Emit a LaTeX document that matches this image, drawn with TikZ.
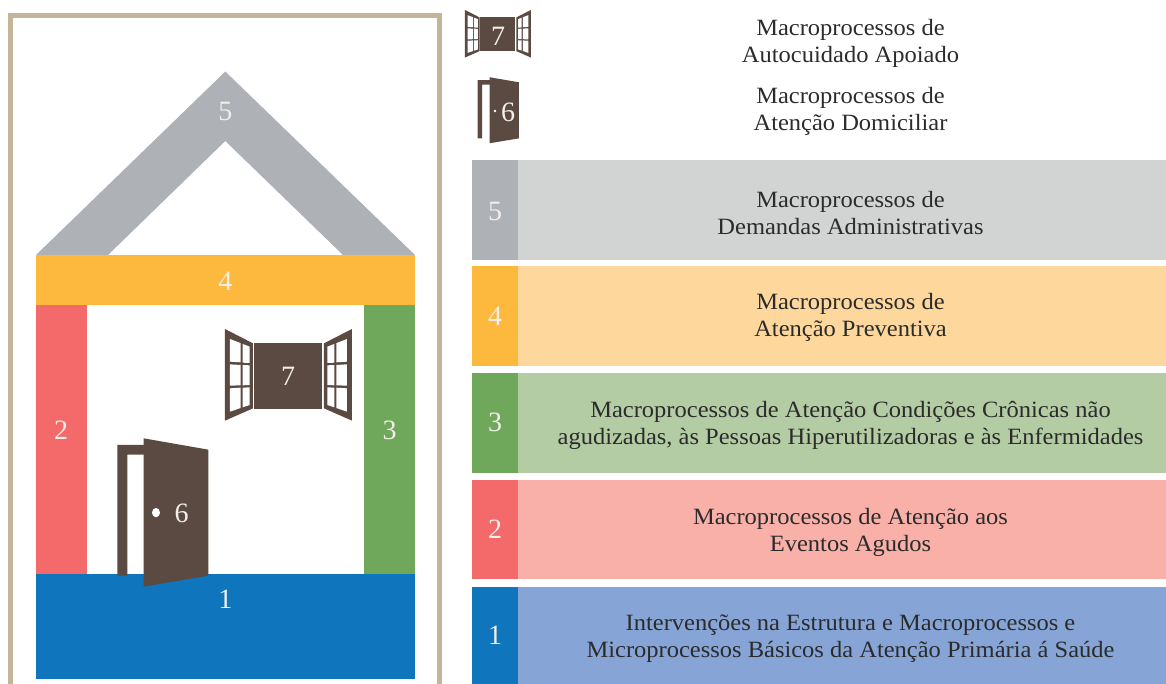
\documentclass[tikz,border=0pt]{standalone}
\usepackage{fontspec}
\setmainfont{Liberation Serif}
\newfontfamily\capfont[FakeStretch=1.05]{Liberation Serif}
\definecolor{framec}{HTML}{C4B599}
\definecolor{brownc}{HTML}{5B4A41}
\definecolor{digitc}{HTML}{F2EEEA}
\definecolor{txtc}{HTML}{2B2B2B}
\definecolor{greyD}{HTML}{AEB1B5}\definecolor{greyL}{HTML}{D2D3D3}
\definecolor{yelD}{HTML}{FDB93D}\definecolor{yelL}{HTML}{FDD79C}
\definecolor{grnD}{HTML}{70A85B}\definecolor{grnL}{HTML}{B3CCA4}
\definecolor{redD}{HTML}{F46A6B}\definecolor{redL}{HTML}{F8B0A9}
\definecolor{bluD}{HTML}{0F75BC}\definecolor{bluL}{HTML}{86A5D6}
\tikzset{
  digit/.style={text=digitc,font=\fontsize{21pt}{21pt}\selectfont,inner sep=0pt},
  caption/.style={text=txtc,align=center,inner sep=0pt,font=\capfont\fontsize{17.5pt}{20.25pt}\selectfont}
}
\newcommand{\windowicon}{%
  \fill[brownc] (463,68) rectangle (666,266);
  \foreach \a/\s in {0/1,1131/-1}{
    \fill[brownc] ({\a+\s*375},27) -- ({\a+\s*459},70) -- ({\a+\s*459},265) -- ({\a+\s*375},302) -- cycle;
    \foreach \p/\q/\ya/\yb/\yc/\yd in {
      390/422/57/69.5/127/125, 428/449/71.8/80/129/128,
      390/422/133/135/196/197, 428/449/135/136/195/196,
      390/422/205/203/264/275, 428/449/203/202/255/262}{
      \fill[white] ({\a+\s*\p},\ya) -- ({\a+\s*\q},\yb) -- ({\a+\s*\q},\yc) -- ({\a+\s*\p},\yd) -- cycle;
    }
  }
}
\newcommand{\dooricon}{%
  \fill[brownc] (52,767) -- (52,375) -- (140,375) -- (140,404) -- (82,404) -- (82,767) -- cycle;
  \fill[brownc] (131,355) -- (325,389) -- (325,767) -- (131,800) -- cycle;
}
\begin{document}
\begin{tikzpicture}[x=0.75pt,y=-0.75pt]
\useasboundingbox (0,0) rectangle (1166,684);
% frame
\draw[framec,line width=3.6pt] (10.6,684) -- (10.6,15.5) -- (439.4,15.5) -- (439.4,684);
% house
\fill[greyD] (36,255) -- (225.3,71.5) -- (415,255) -- (343,255) -- (225.3,141) -- (108,255) -- cycle;
\fill[yelD] (36,255) rectangle (415,304.5);
\fill[redD] (36,304.5) rectangle (87,574);
\fill[grnD] (364,304.5) rectangle (415,574);
\fill[bluD] (36,574) rectangle (415,679);
\node[digit] (h5) at (225.3,111) {5};
\node[digit] (h4) at (225.3,281) {4};
\node[digit] (h2) at (61,430) {2};
\node[digit] (h3) at (389.5,430) {3};
\node[digit] (h1) at (225.3,599) {1};
% large window and door
\begin{scope}[shift={(100,320)},scale=0.3333]
  \windowicon
  \dooricon
  \fill[white] (168,578) ellipse (12 and 14);
\end{scope}
\node[digit] (h7) at (288,376) {7};
\node[digit] (h6) at (181.5,513) {6};
% legend icons
\begin{scope}[shift={(400.1,5.3)},scale=0.173]
  \windowicon
\end{scope}
\node[digit] (l7) at (498,36) {7};
\begin{scope}[shift={(469.8,24.6)},xscale=0.1513,yscale=0.1483]
  \dooricon
\end{scope}
\fill[white] (495,111) circle (1.4);
\node[digit] (l6) at (508,112) {6};
\node[caption] (c7) at (850.5,43) {Macroprocessos de\\Autocuidado Apoiado};
\node[caption] (c6) at (850.5,111.5) {Macroprocessos de\\Atenção Domiciliar};
% legend bars
\fill[greyD] (472,160) rectangle (518,260);
\fill[greyL] (518,160) rectangle (1166,260);
\fill[yelD] (472,266) rectangle (518,366);
\fill[yelL] (518,266) rectangle (1166,366);
\fill[grnD] (472,373) rectangle (518,472.5);
\fill[grnL] (518,373) rectangle (1166,472.5);
\fill[redD] (472,479.5) rectangle (518,579);
\fill[redL] (518,479.5) rectangle (1166,579);
\fill[bluD] (472,586.5) rectangle (518,684);
\fill[bluL] (518,586.5) rectangle (1166,684);
\node[digit] (l5) at (495,211) {5};
\node[digit] (l4) at (495,316) {4};
\node[digit] (l3) at (495,422) {3};
\node[digit] (l2) at (495,529) {2};
\node[digit] (l1) at (495,635) {1};
\node[caption] (c5) at (850.5,213.5) {Macroprocessos de\\Demandas Administrativas};
\node[caption] (c4) at (850.5,317.5) {Macroprocessos de\\Atenção Preventiva};
\node[caption] (c3) at (850.5,425.5) {Macroprocessos de Atenção Condições Crônicas não\\agudizadas, às Pessoas Hiperutilizadoras e às Enfermidades};
\node[caption] (c2) at (850.5,532) {Macroprocessos de Atenção aos\\Eventos Agudos};
\node[caption] (c1) at (850.5,638.5) {Intervenções na Estrutura e Macroprocessos e\\Microprocessos Básicos da Atenção Primária á Saúde};
\end{tikzpicture}
\end{document}
